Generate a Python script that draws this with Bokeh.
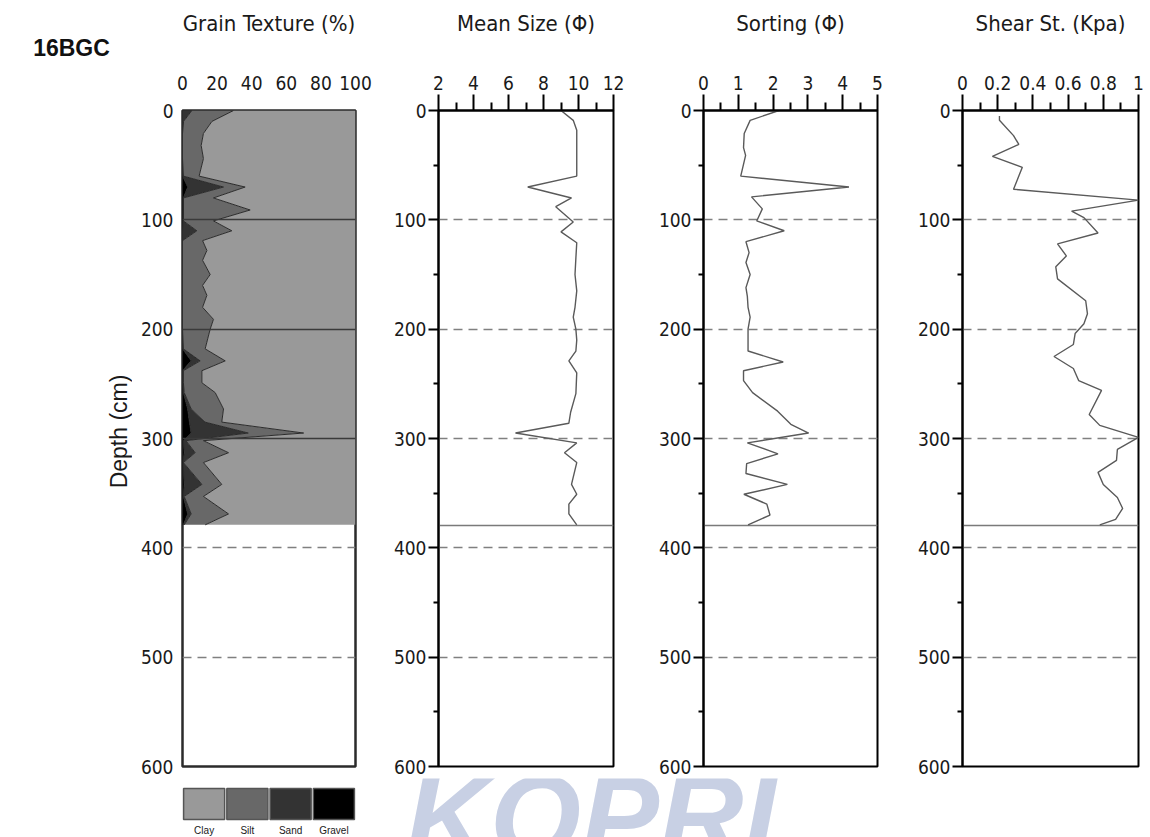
from bokeh.plotting import figure
from bokeh.layouts import row, column
from bokeh.models import (ColumnDataSource, FixedTicker, Range1d,
                          Label, NumeralTickFormatter)
from bokeh.core.properties import value
from bokeh.embed import file_html
from bokeh.resources import INLINE

# ---------------- core description ----------------
core_name = "16BGC"
core_length = 380          # cm, base of the recovered sediment
depth_max = 600
depth_ticks = [0, 100, 200, 300, 400, 500, 600]
depth_minor = [50, 150, 250, 350, 450, 550]
section_breaks = [100, 200, 300]
dashed_depths = [100, 200, 300, 400, 500]
empty_depths = [400, 500]

# ---------------- grain texture (%) ----------------
texture_classes = ["Clay", "Silt", "Sand", "Gravel"]
texture_colors = ["#999999", "#686868", "#333333", "#000000"]
texture_depth = [0, 10, 21, 32, 44, 60, 70, 80, 91, 101, 110, 119, 128, 137, 150, 160, 169,
                 180, 191, 200, 218, 229, 238, 249, 258, 273, 285, 295, 302, 313, 322, 342,
                 353, 369, 379]
gravel = [0, 0, 0, 0, 0, 0, 3, 0.5, 0.5, 0.3, 0, 0, 0, 0, 0, 0, 0,
          0, 0, 0, 0, 5, 0, 0, 0.5, 3, 4, 5, 0.5, 1, 0.3, 1,
          0.5, 3, 0.5]
sand = [5.4, 0.6, 0, 0, 0, 0.5, 20.7, 0, 0, 0.2, 8.3, 0, 0, 0, 0, 0, 0,
        0, 0, 0, 0.5, 5.2, 0.5, 0.5, 0.5, 2, 9, 33, 1.5, 6.3, 0.2, 10.2,
        0.5, 2, 0.5]
silt = [24.1, 16.4, 12.1, 10.8, 12.1, 9.1, 12.5, 17.4, 38.6, 17.4, 20.2, 11.6, 14.1, 11.6, 16, 11.6, 14.1,
        11.6, 17.9, 16, 12.6, 14.5, 10.7, 10.7, 17.9, 18.7, 9.7, 32, 10.1, 19.3, 11.6, 11.5,
        11.1, 21.6, 12.1]
clay = [70.5, 83, 87.9, 89.2, 87.9, 90.4, 63.8, 82.1, 60.9, 82.1, 71.5, 88.4, 85.9, 88.4, 84, 88.4, 85.9,
        88.4, 82.1, 84, 86.9, 75.3, 88.8, 88.8, 81.1, 76.3, 77.3, 30, 87.9, 73.4, 87.9, 77.3,
        87.9, 73.4, 86.9]

# ---------------- mean size (phi) ----------------
mean_depth = [0, 9, 18, 60, 70, 80, 88, 102, 111, 121, 135, 150, 165, 180, 189, 200, 210,
              220, 229, 240, 259, 276, 286, 295, 304, 313, 322, 342, 351, 360, 369, 379]
mean_phi = [9.0, 9.7, 9.9, 9.9, 7.1, 9.6, 8.7, 9.7, 9.0, 9.9, 9.85, 9.8, 9.9, 9.8, 9.7, 9.85, 9.9,
            9.85, 9.45, 9.9, 9.85, 9.55, 9.45, 6.4, 9.9, 9.2, 9.9, 9.6, 9.9, 9.45, 9.45, 9.9]

# ---------------- sorting (phi) ----------------
sort_depth = [0, 9, 21, 34, 41, 60, 70, 79, 90, 101, 110, 120, 130, 139, 150, 162, 170, 180, 189,
              200, 220, 230, 238, 247, 258, 275, 287, 295, 304, 314, 323, 332, 342, 351, 360, 370, 379]
sort_phi = [2.17, 1.34, 1.17, 1.15, 1.21, 1.07, 4.18, 1.38, 1.69, 1.53, 2.32, 1.22, 1.31, 1.22, 1.34,
            1.22, 1.26, 1.28, 1.34, 1.28, 1.28, 2.29, 1.15, 1.15, 1.41, 2.13, 2.51, 3.02, 1.26, 2.14,
            1.24, 1.22, 2.41, 1.16, 1.82, 1.91, 1.28]

# ---------------- shear strength (kPa) ----------------
shear_depth = [5, 9, 23, 31, 42, 52, 60, 72, 82, 92, 98, 112, 122, 133, 143, 154, 174, 186, 195,
               204, 214, 225, 236, 247, 256, 278, 288, 299, 310, 320, 331, 342, 354, 364, 374, 379]
shear_kpa = [0.21, 0.21, 0.29, 0.32, 0.17, 0.34, 0.32, 0.29, 1.0, 0.62, 0.69, 0.77, 0.54, 0.59, 0.53,
             0.54, 0.70, 0.71, 0.69, 0.64, 0.63, 0.52, 0.63, 0.66, 0.79, 0.72, 0.78, 1.0, 0.88,
             0.875, 0.77, 0.80, 0.88, 0.91, 0.87, 0.78]

NARROW = "DejaVu Sans Condensed"
PLAIN = "Liberation Sans"
INK = "#1a1a1a"
PAGE_W = 1150
FRAME_H = 656
TOP_H = 778
KEY_H = 59
TEX_LEFT = 182            # left edge of the texture frame on the page
TEX_W = 173               # width of the texture frame


def depth_panel(x_lo, x_hi, frame_w, left, right, title, major, minor, with_ticks=True):
    p = figure(x_range=Range1d(x_lo, x_hi), y_range=Range1d(depth_max, 0),
               frame_width=frame_w, frame_height=FRAME_H,
               min_border_left=left, min_border_right=right,
               min_border_top=110, min_border_bottom=12,
               x_axis_location="above", output_backend="svg",
               toolbar_location=None)
    p.grid.visible = False
    p.outline_line_color = "black"
    p.outline_line_width = 2
    p.outline_line_alpha = 1

    xa = p.xaxis[0]
    ya = p.yaxis[0]
    xa.ticker = FixedTicker(ticks=major, minor_ticks=minor)
    ya.ticker = FixedTicker(ticks=depth_ticks, minor_ticks=depth_minor)
    for ax in (xa, ya):
        ax.major_label_text_font = NARROW
        ax.major_label_text_font_size = "19px"
        ax.major_label_text_color = INK
        ax.axis_line_color = "black"
        ax.axis_line_width = 2
        ax.major_tick_line_width = 2
        ax.minor_tick_line_width = 2
        ax.major_tick_in = 0
        ax.minor_tick_in = 0

    xa.axis_label = title
    xa.axis_label_text_font = NARROW
    xa.axis_label_text_font_size = "22px"
    xa.axis_label_text_font_style = "normal"
    xa.axis_label_text_color = INK

    if with_ticks:
        xa.major_tick_out = 16
        xa.minor_tick_out = 8
        xa.major_label_standoff = 5
        xa.axis_label_standoff = 37
        ya.major_tick_out = 10
        ya.minor_tick_out = 5
        ya.major_label_standoff = 2
    else:
        for ax in (xa, ya):
            ax.major_tick_line_color = None
            ax.minor_tick_line_color = None
            ax.axis_line_color = None
            ax.major_tick_out = 0
            ax.minor_tick_out = 0
        xa.major_label_standoff = 21
        xa.axis_label_standoff = 37
        ya.major_label_standoff = 9
    return p


def profile_panel(x_lo, x_hi, frame_w, left, right, title, major, minor, depth, vals):
    p = depth_panel(x_lo, x_hi, frame_w, left, right, title, major, minor)
    p.hspan(y=dashed_depths, line_color="#808080", line_width=1.6, line_dash="9 6")
    p.hspan(y=[core_length], line_color="#7a7a7a", line_width=1.6)
    p.line(x=vals, y=depth, line_color="#5a5a5a", line_width=1.4)
    return p


# ---- core name (as a bare top axis caption) and depth caption ----
f0 = figure(width=132, height=TOP_H, x_range=Range1d(0, 1), y_range=Range1d(0, 1),
            min_border=0, min_border_left=10, x_axis_location="above",
            y_axis_location=None, output_backend="svg", toolbar_location=None)
f0.grid.visible = False
f0.outline_line_color = None
hx = f0.xaxis[0]
hx.ticker = FixedTicker(ticks=[])
hx.axis_line_color = None
hx.major_tick_line_color = None
hx.minor_tick_line_color = None
hx.major_tick_out = 0
hx.minor_tick_out = 0
hx.major_label_standoff = 0
hx.axis_label = core_name
hx.axis_label_text_font = PLAIN
hx.axis_label_text_font_style = "bold"
hx.axis_label_text_font_size = "23px"
hx.axis_label_text_color = "#111111"
hx.axis_label_standoff = 50
f0.add_layout(Label(x=108, y=TOP_H - 443, x_units="screen", y_units="screen",
                    text="Depth (cm)", text_font=PLAIN, text_font_size="23px",
                    text_color=INK, angle=90, angle_units="deg",
                    text_align="center", text_baseline="middle"))

# ---- grain texture panel ----
f1 = depth_panel(0, 100, TEX_W, 50, 30, "Grain Texture (%)",
                 [0, 20, 40, 60, 80, 100], [], with_ticks=False)
tex_src = ColumnDataSource(dict(depth=texture_depth, Gravel=gravel, Sand=sand,
                                Silt=silt, Clay=clay))
stack_order = ["Gravel", "Sand", "Silt", "Clay"]
f1.harea_stack(stack_order, y="depth", source=tex_src,
               color=[texture_colors[texture_classes.index(c)] for c in stack_order])
f1.hline_stack(stack_order[:3], y="depth", source=tex_src,
               line_color="#2b2b2b", line_width=1)
f1.hspan(y=section_breaks, line_color="#3a3a3a", line_width=1.5)
f1.hspan(y=empty_depths, line_color="#808080", line_width=1.6, line_dash="9 6")
f1.outline_line_color = "#2b2b2b"
f1.outline_line_width = 2.5

# ---- profile panels ----
f2 = profile_panel(2, 12, 175, 53, 30, "Mean Size (\u03a6)",
                   [2, 4, 6, 8, 10, 12], [3, 5, 7, 9, 11], mean_depth, mean_phi)
f3 = profile_panel(0, 5, 174, 60, 30, "Sorting (\u03a6)",
                   [0, 1, 2, 3, 4, 5], [0.5, 1.5, 2.5, 3.5, 4.5], sort_depth, sort_phi)
f4 = profile_panel(0, 1, 176, 55, 12, "Shear St. (Kpa)",
                   [0, 0.2, 0.4, 0.6, 0.8, 1.0], [0.1, 0.3, 0.5, 0.7, 0.9],
                   shear_depth, shear_kpa)
f4.xaxis[0].formatter = NumeralTickFormatter(format="0.[0]")

# ---- bottom strip: texture key under the texture panel, institute mark ----
# x runs in the same percent units as the texture panel so the key lines up under it
pct_per_px = 100 / TEX_W
strip = figure(width=PAGE_W, height=KEY_H, min_border=0,
               x_range=Range1d(-TEX_LEFT * pct_per_px, (PAGE_W - TEX_LEFT) * pct_per_px),
               y_range=Range1d(KEY_H, 0),
               x_axis_location=None, y_axis_location=None,
               output_backend="svg", toolbar_location=None)
strip.grid.visible = False
strip.outline_line_color = None
slot = 100 / len(texture_classes)
key_src = ColumnDataSource(dict(
    name=texture_classes, color=texture_colors,
    x=[slot * (i + 0.5) for i in range(len(texture_classes))]))
strip.add_layout(Label(x=405, y=21, x_units="screen", y_units="screen",
                       text="KOPRI", text_font=PLAIN, text_font_style="bold italic",
                       text_font_size="117px", text_color="#c8d0e4",
                       text_baseline="alphabetic"))
strip.rect(x="x", y=25.5, width=slot * 0.95, height=31, source=key_src,
           fill_color="color", line_color="#555555", line_width=1.5)
strip.text(x="x", y=46, text="name", source=key_src, text_font=value(PLAIN),
           text_font_size="10px", text_color=INK, text_align="center",
           text_baseline="top")

page = column(row(f0, f1, f2, f3, f4), strip)

with open("out.html", "w") as fh:
    fh.write(file_html(page, INLINE))
